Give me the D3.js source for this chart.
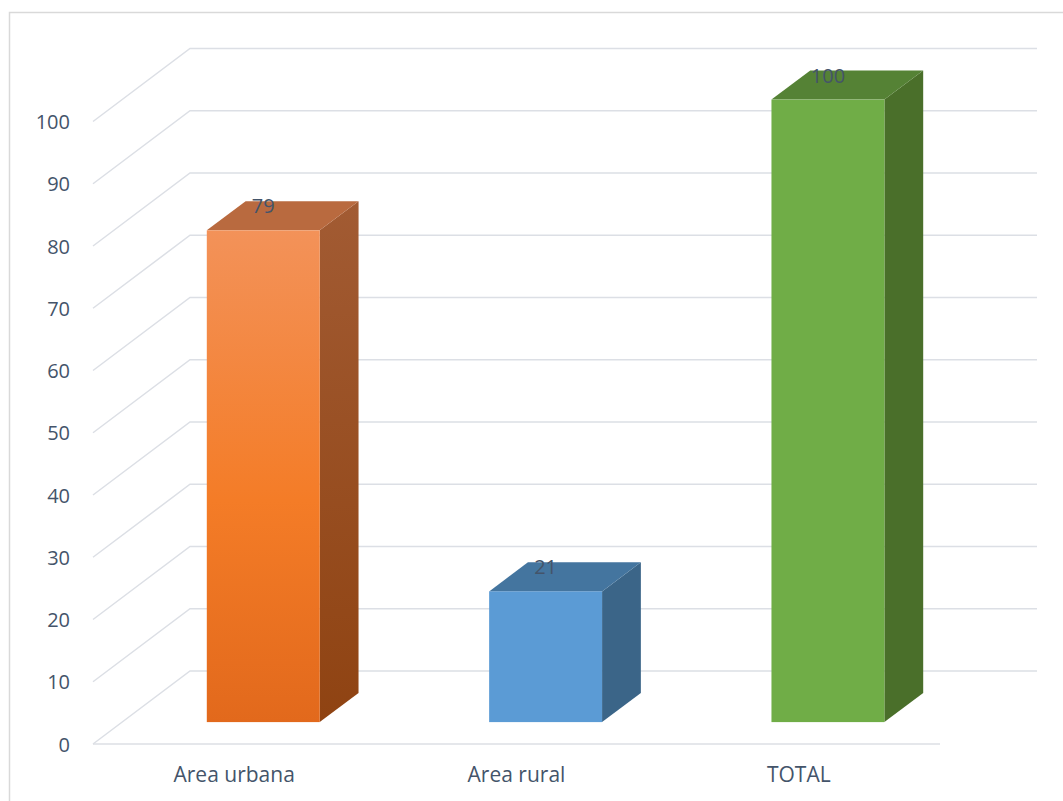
<!DOCTYPE html>
<html>
<head>
<meta charset="utf-8">
<script src="https://cdn.jsdelivr.net/npm/d3@7"></script>
<style>
  html, body { margin: 0; padding: 0; background: #ffffff; }
  svg { display: block; }
  text { font-family: "Open Sans", "Noto Sans", sans-serif; fill: #44546A; }
</style>
</head>
<body>
<svg id="chart" width="1063" height="801"></svg>
<script>
// Chart data
const categories = ["Area urbana", "Area rural", "TOTAL"];
const values = [79, 21, 100];
const tickValues = [0, 10, 20, 30, 40, 50, 60, 70, 80, 90, 100];

// Face colours per bar: [front top, front bottom, side top, side bottom, top]
const faceColors = [
  ["#F39259", "#E2691C", "#A25B33", "#8F4312", "#B96A3F"],
  ["#5B9BD5", "#5B9BD5", "#3B6588", "#3B6588", "#44759F"],
  ["#70AD47", "#70AD47", "#4A6F2A", "#4A6F2A", "#558235"]
];

const svg = d3.select("#chart");

// Layout of the 3D box (front floor plane + depth offset)
const floorLeft = 93, floorRight = 940;
const depthDX = 97, depthDY = -73;
const wallRight = 1037;
const barDepthFront = 0.3, barDepthBack = 0.7;

const y = d3.scaleLinear().domain([0, 100]).range([744, 121.5]);
const x = d3.scaleBand().domain(categories).range([floorLeft, floorRight]).padding(0);
const barW = x.bandwidth() * 0.4;

// Outer frame
svg.append("rect")
  .attr("x", 9.5).attr("y", 12.5)
  .attr("width", 1060).attr("height", 800)
  .attr("fill", "none").attr("stroke", "#D9D9D9").attr("stroke-width", 1.5);

// Gradients
const defs = svg.append("defs");
faceColors.forEach((c, i) => {
  const gf = defs.append("linearGradient").attr("id", "front" + i)
    .attr("x1", 0).attr("y1", 0).attr("x2", 0).attr("y2", 1);
  gf.append("stop").attr("offset", "0%").attr("stop-color", c[0]);
  if (i === 0) gf.append("stop").attr("offset", "55%").attr("stop-color", "#F47C27");
  gf.append("stop").attr("offset", "100%").attr("stop-color", c[1]);
  const gs = defs.append("linearGradient").attr("id", "side" + i)
    .attr("x1", 0).attr("y1", 0).attr("x2", 0).attr("y2", 1);
  gs.append("stop").attr("offset", "0%").attr("stop-color", c[2]);
  gs.append("stop").attr("offset", "100%").attr("stop-color", c[3]);
});

// Gridlines: left wall diagonal + back wall horizontal
const grid = svg.append("g")
  .attr("fill", "none").attr("stroke", "#DCDFE5").attr("stroke-width", 1.5);
tickValues.forEach(v => {
  const y0 = y(v);
  grid.append("path")
    .attr("d", `M${floorLeft},${y0}L${floorLeft + depthDX},${y0 + depthDY}L${wallRight},${y0 + depthDY}`);
});
// Front floor edge
grid.append("line")
  .attr("x1", floorLeft).attr("x2", floorRight)
  .attr("y1", y(0)).attr("y2", y(0));

// Y axis labels
svg.append("g").selectAll("text").data(tickValues).join("text")
  .attr("x", 70).attr("y", d => y(d))
  .attr("text-anchor", "end").attr("dominant-baseline", "central")
  .attr("font-size", 20)
  .text(d => d);

// Category labels
svg.append("g").selectAll("text").data(categories).join("text")
  .attr("x", d => x(d) + x.bandwidth() / 2).attr("y", 782)
  .attr("text-anchor", "middle").attr("font-size", 21)
  .text(d => d);

// Bars
const fdx = depthDX * barDepthFront, fdy = depthDY * barDepthFront;
const bdx = depthDX * barDepthBack, bdy = depthDY * barDepthBack;
const bars = svg.append("g");
categories.forEach((cat, i) => {
  const v = values[i];
  const cx = x(cat) + x.bandwidth() / 2;
  const xl = cx - barW / 2 + fdx, xr = cx + barW / 2 + fdx;
  const yb = y(0) + fdy, yt = y(v) + fdy;
  const ox = bdx - fdx, oy = bdy - fdy;
  const g = bars.append("g");
  // side
  g.append("path")
    .attr("d", `M${xr},${yb}L${xr + ox},${yb + oy}L${xr + ox},${yt + oy}L${xr},${yt}Z`)
    .attr("fill", `url(#side${i})`);
  // top
  g.append("path")
    .attr("d", `M${xl},${yt}L${xl + ox},${yt + oy}L${xr + ox},${yt + oy}L${xr},${yt}Z`)
    .attr("fill", faceColors[i][4]);
  // front
  g.append("rect")
    .attr("x", xl).attr("y", yt).attr("width", xr - xl).attr("height", yb - yt)
    .attr("fill", `url(#front${i})`);
  // value label
  g.append("text")
    .attr("x", cx + fdx).attr("y", yt - 17)
    .attr("text-anchor", "middle").attr("font-size", 20)
    .text(v);
});
</script>
</body>
</html>
